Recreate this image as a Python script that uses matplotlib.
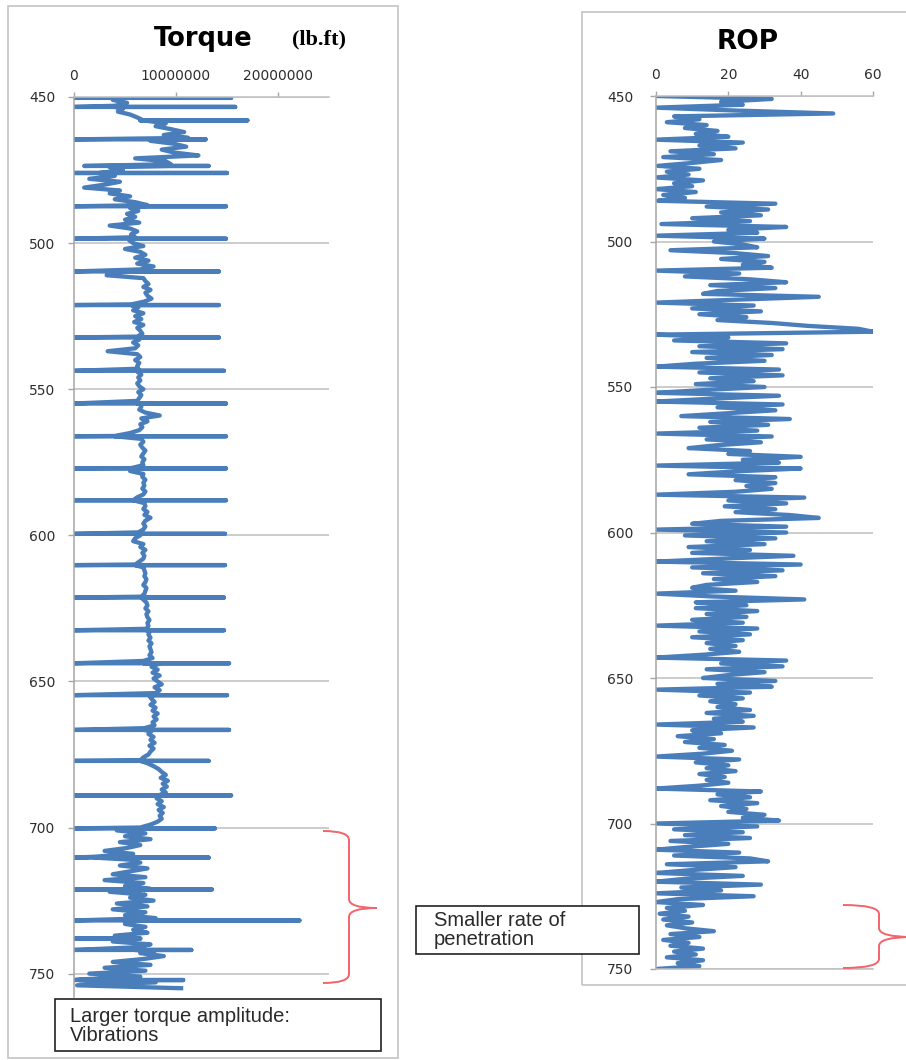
import numpy as np
import matplotlib
matplotlib.use("Agg")
import matplotlib.pyplot as plt
from matplotlib.patches import Rectangle, PathPatch
from matplotlib.path import Path
from matplotlib.ticker import FuncFormatter

# ---------------- data ----------------
# Torque log (lb.ft, in millions), one reading per metre from 450 m to 755 m
torque_depth = np.arange(450, 756)
torque_musd = [
    4.5, 3.8, 5.2, 4.0, 4.8, 4.3, 5.5, 6.2, 6.8, 9.0,
    8.0, 9.5, 10.8, 8.8, 11.2, 7.5, 9.8, 11.0, 8.6, 9.8,
    12.2, 6.0, 9.0, 9.5, 3.5, 4.8, 2.5, 4.0, 1.5, 4.5,
    3.0, 1.0, 4.5, 3.5, 5.5, 4.0, 6.0, 7.2, 5.5, 6.3,
    5.2, 6.0, 5.0, 6.4, 3.5, 5.5, 6.2, 5.6, 6.0, 5.4,
    5.8, 6.8, 5.0, 6.5, 7.0, 6.0, 7.3, 6.2, 7.8, 6.5,
    4.0, 3.2, 6.8, 7.0, 7.3, 6.8, 7.5, 7.0, 7.2, 7.6,
    6.9, 5.6, 6.3, 5.8, 6.8, 6.0, 6.6, 5.9, 6.8, 6.2,
    6.5, 6.7, 6.2, 6.4, 5.8, 6.3, 6.0, 3.3, 6.2, 6.5,
    6.0, 6.4, 6.2, 6.3, 6.2, 6.6, 6.3, 6.5, 6.2, 6.4,
    6.8, 6.3, 6.6, 6.4, 6.2, 6.5, 6.6, 6.4, 7.0, 8.4,
    6.6, 7.2, 6.5, 6.7, 6.4, 5.5, 4.0, 6.6, 6.8, 6.5,
    6.7, 7.0, 6.8, 6.6, 6.9, 6.7, 6.8, 5.6, 5.5, 6.8,
    6.7, 7.0, 6.8, 6.9, 6.7, 7.0, 6.8, 6.2, 5.8, 6.9,
    7.0, 6.8, 7.2, 6.9, 7.5, 7.0, 6.8, 7.0, 6.8, 6.3,
    6.5, 6.0, 5.8, 6.8, 6.5, 7.0, 6.7, 6.9, 6.8, 6.4,
    6.0, 6.8, 6.9, 7.0, 6.9, 7.1, 7.0, 6.8, 7.1, 7.0,
    6.9, 6.6, 6.8, 7.1, 7.2, 7.0, 7.3, 7.1, 7.2, 7.4,
    7.2, 7.3, 7.1, 7.4, 7.3, 7.5, 7.3, 7.6, 7.4, 7.5,
    7.6, 7.4, 7.7, 6.8, 8.3, 7.6, 8.2, 7.7, 8.4, 7.8,
    8.2, 8.6, 7.9, 8.4, 8.0, 7.4, 7.6, 7.9, 7.5, 8.0,
    7.7, 8.2, 7.8, 8.1, 7.7, 7.9, 6.9, 7.6, 7.3, 7.8,
    7.5, 7.9, 7.4, 7.8, 7.5, 7.3, 6.8, 6.5, 7.2, 7.8,
    8.3, 8.6, 9.0, 8.5, 9.2, 8.7, 9.1, 8.6, 9.0, 8.3,
    8.1, 8.6, 8.2, 8.8, 8.3, 8.7, 8.4, 8.6, 8.2, 7.5,
    6.5, 4.2, 7.0, 5.0, 7.5, 4.5, 6.5, 5.2, 3.0, 5.8,
    2.0, 5.5, 6.5, 4.5, 7.2, 5.5, 3.8, 7.0, 3.0, 6.8,
    5.0, 7.5, 3.5, 7.0, 5.5, 7.8, 4.2, 7.2, 3.8, 7.0,
    5.0, 8.0, 6.0, 5.0, 7.0, 5.8, 7.2, 4.0, 6.5, 3.8,
    7.5, 6.0, 8.0, 6.5, 8.8, 6.8, 3.8, 7.5, 3.0, 7.0,
    1.5, 6.5, 0.5, 8.0, 0.3, 10.5,
]

# Stick-slip torque spikes: depth (m), low and high reading (millions lb.ft)
spike_depth = [450.3, 453.4, 458.0, 464.5, 473.6, 476.0, 487.4, 498.5, 509.7,
               521.2, 532.3, 543.7, 554.9, 566.1, 577.1, 588.0, 599.5, 610.2,
               621.3, 632.5, 643.8, 654.7, 666.6, 677.2, 689.0, 700.3, 710.3,
               721.2, 731.8, 738.0, 741.9, 752.2]
spike_low = [0, 0, 6.5, 0, 1.0, 0, 0, 0, 0,
             0, 0, 0, 0, 0, 0, 0, 0, 0,
             0, 0, 0, 0, 0, 0, 0, 0, 0,
             0, 0, 0, 0, 0]
spike_high = [15.4, 15.8, 17.0, 12.9, 13.2, 15.0, 14.9, 14.9, 14.2,
              14.2, 14.2, 14.7, 14.9, 14.9, 14.9, 14.9, 14.8, 14.8,
              14.7, 14.7, 15.2, 15.0, 15.2, 13.2, 15.4, 13.8, 13.2,
              13.5, 22.1, 6.0, 11.5, 10.7]

# Rate of penetration log (m/h), one reading per metre from 450 m to 750 m
rop_depth = np.arange(450, 751)
rop = [
    0, 32, 18, 24, 0, 22, 49, 5, 12, 3,
    14, 8, 17, 11, 20, 0, 24, 12, 22, 4,
    16, 2, 18, 10, 0.5, 12, 3, 9, 0, 13,
    5, 10, 0, 11, 2, 8, 0.5, 33, 14, 31,
    18, 29, 10, 26, 1.5, 36, 20, 28, 0, 30,
    16, 24, 28, 4, 22, 31, 18, 30, 24, 32,
    0, 23, 8, 26, 36, 15, 33, 17, 13, 45,
    22, 0, 27, 10, 29, 12, 25, 17, 32, 42,
    56, 60, 0, 20, 5, 36, 12, 35, 10, 32,
    14, 30, 11, 0, 34, 12, 35, 15, 27, 11,
    30, 14, 0, 34, 16, 0, 35, 17, 33, 20,
    7, 37, 15, 31, 12, 28, 0, 32, 14, 29,
    17, 9, 26, 20, 40, 24, 34, 0, 40, 22,
    9, 33, 22, 33, 25, 32, 22, 0, 41, 20,
    36, 19, 33, 22, 37, 45, 18, 10, 36, 0,
    36, 8, 33, 14, 30, 9, 26, 10, 38, 18,
    0, 40, 10, 35, 13, 33, 16, 28, 14, 10,
    22, 0, 16, 41, 11, 25, 11, 28, 14, 25,
    10, 24, 0, 28, 12, 26, 10, 24, 14, 22,
    15, 23, 13, 0, 36, 18, 35, 14, 30, 20,
    13, 33, 17, 32, 0, 26, 12, 24, 15, 22,
    17, 26, 14, 27, 16, 24, 0, 27, 10, 18,
    6, 16, 8, 19, 12, 21, 13, 0, 23, 11,
    20, 14, 22, 12, 19, 14, 20, 12, 0, 29,
    17, 26, 15, 28, 18, 25, 20, 30, 24, 34,
    0, 28, 5, 24, 8, 26, 4, 20, 9, 0,
    23, 5, 26, 31, 3, 22, 10, 0, 24, 8,
    0, 29, 7, 18, 0, 27, 6, 0, 13, 3,
    8, 1, 9, 2, 10, 3, 8, 16, 4, 12,
    2, 9, 4, 13, 5, 11, 3, 13, 6, 12,
    0,
]

torque_ticks = [0, 10000000, 20000000]
rop_ticks = [0, 20, 40, 60]
depth_ticks = [450, 500, 550, 600, 650, 700, 750]

# ---------------- styling ----------------
W, H = 906, 1060
LINE = "#4A7EBB"
GRID = "#BFBFBF"
AXIS = "#A6A6A6"
LABEL = "#2E2E2E"
BRACE = "#F2646A"
LW = 3.1

fig = plt.figure(figsize=(W / 100, H / 100), dpi=100)
fig.patch.set_facecolor("white")


def fx(x):
    return x / W


def fy(y):
    return 1 - y / H


def add_axes_px(x0, y0, x1, y1):
    return fig.add_axes([fx(x0), fy(y1), fx(x1) - fx(x0), fy(y0) - fy(y1)])


def merge_spikes(depth, values, s_depth, s_low, s_high):
    """Insert the horizontal spike excursions into a depth-ordered series."""
    pts = list(zip(depth.astype(float), values))
    for d, lo, hi in zip(s_depth, s_low, s_high):
        i = np.searchsorted(depth, d, side="right") - 1
        prev = values[max(i, 0)]
        pts += [(d, lo), (d, hi), (d, prev)]
    pts.sort(key=lambda p: p[0])
    arr = np.array(pts)
    return arr[:, 0], arr[:, 1]


def style_axis(ax, xmax, xticks, ylim, ypad, bottom_spine):
    ax.set_xlim(0, xmax)
    ax.set_ylim(*ylim)
    ax.set_xticks(xticks)
    ax.set_yticks(depth_ticks)
    ax.xaxis.tick_top()
    ax.yaxis.grid(True, color=GRID, linewidth=1.1)
    ax.xaxis.grid(False)
    ax.set_axisbelow(True)
    ax.spines["right"].set_visible(False)
    ax.spines["bottom"].set_visible(bottom_spine)
    for side in ("left", "top", "bottom"):
        ax.spines[side].set_color(AXIS)
        ax.spines[side].set_linewidth(1.1)
    ax.spines["top"].set_color(GRID)
    ax.spines["bottom"].set_color(GRID)
    ax.tick_params(axis="y", direction="out", length=4.5, width=1.0,
                   color=AXIS, labelsize=10, labelcolor=LABEL, pad=ypad)
    ax.tick_params(axis="x", direction="out", length=3.5, width=1.0,
                   color=AXIS, labelsize=10, labelcolor=LABEL, pad=6.5,
                   top=True, bottom=False, labeltop=True, labelbottom=False)
    for lab in ax.get_xticklabels() + ax.get_yticklabels():
        lab.set_fontfamily("DejaVu Sans")


# ---------------- panel frames ----------------
fig.patches.append(Rectangle((fx(8), fy(1058)), fx(398) - fx(8), fy(6) - fy(1058),
                             transform=fig.transFigure, fill=False,
                             edgecolor="#C4C4C4", linewidth=1.2, zorder=0))
fig.patches.append(Rectangle((fx(582), fy(985)), fx(915) - fx(582), fy(12) - fy(985),
                             transform=fig.transFigure, fill=False,
                             edgecolor="#C4C4C4", linewidth=1.2, zorder=0))

# ---------------- torque panel ----------------
ax1 = add_axes_px(74, 97, 329, 997)
td, tv = merge_spikes(torque_depth, torque_musd, spike_depth, spike_low, spike_high)
ax1.plot(tv * 1e6, td, color=LINE, linewidth=LW)
style_axis(ax1, 25000000, torque_ticks, (758, 450), 9.0, False)
ax1.xaxis.set_major_formatter(FuncFormatter(lambda v, p: f"{v:.0f}"))

# ---------------- ROP panel ----------------
ax2 = add_axes_px(656, 96, 873, 969)
ax2.plot(rop, rop_depth, color=LINE, linewidth=LW)
style_axis(ax2, 60, rop_ticks, (750, 450), 12.0, True)

# ---------------- titles ----------------
fig.text(fx(203), fy(46), "Torque", ha="center", va="baseline",
         fontsize=18.5, fontweight="bold", family="DejaVu Sans", color="black")
fig.text(fx(319), fy(44), "(lb.ft)", ha="center", va="baseline",
         fontsize=16, fontweight="bold", family="Liberation Serif", color="black")
fig.text(fx(748), fy(49), "ROP", ha="center", va="baseline",
         fontsize=19, fontweight="bold", family="DejaVu Sans", color="black")


# ---------------- curly braces ----------------
def brace(x0, xm, xtip, y0, y1, ymid, r=9):
    verts = [
        (x0, y0), (xm, y0), (xm, y0 + r),
        (xm, ymid - r),
        (xm, ymid), (xtip, ymid),
        (xm, ymid), (xm, ymid + r),
        (xm, y1 - r),
        (xm, y1), (x0, y1),
    ]
    codes = [Path.MOVETO, Path.CURVE3, Path.CURVE3,
             Path.LINETO,
             Path.CURVE3, Path.CURVE3,
             Path.CURVE3, Path.CURVE3,
             Path.LINETO,
             Path.CURVE3, Path.CURVE3]
    verts = [(fx(x), fy(y)) for x, y in verts]
    fig.patches.append(PathPatch(Path(verts, codes), transform=fig.transFigure,
                                 fill=False, edgecolor=BRACE, linewidth=1.4, zorder=5))


brace(323, 349, 377, 831, 983, 908)
brace(843, 879, 912, 905, 968, 937)

# ---------------- annotation boxes ----------------
fig.patches.append(Rectangle((fx(55), fy(1051)), fx(381) - fx(55), fy(999) - fy(1051),
                             transform=fig.transFigure, facecolor="white",
                             edgecolor="#222222", linewidth=1.2, zorder=6))
fig.text(fx(70), fy(1026), "Larger torque amplitude:\nVibrations", ha="left",
         va="center", fontsize=14.5, family="Liberation Sans", color="#2A2A2A",
         linespacing=1.0, zorder=7)

fig.patches.append(Rectangle((fx(416), fy(954)), fx(639) - fx(416), fy(906) - fy(954),
                             transform=fig.transFigure, facecolor="white",
                             edgecolor="#222222", linewidth=1.2, zorder=6))
fig.text(fx(434), fy(930), "Smaller rate of\npenetration", ha="left",
         va="center", fontsize=14.5, family="Liberation Sans", color="#2A2A2A",
         linespacing=1.0, zorder=7)

fig.savefig("out.png", dpi=100, facecolor="white")
